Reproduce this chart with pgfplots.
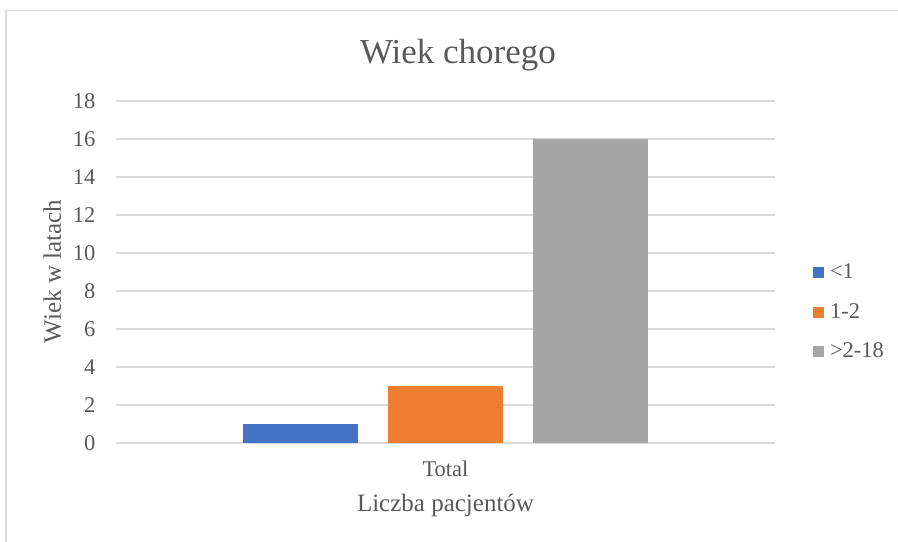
\documentclass[border=0pt]{standalone}
\usepackage{pgfplots}
\pgfplotsset{compat=1.18}
\usepackage{fontspec}
\setmainfont{Liberation Serif}

\definecolor{serA}{HTML}{4472C4}
\definecolor{serB}{HTML}{ED7D31}
\definecolor{serC}{HTML}{A5A5A5}
\definecolor{txt}{HTML}{595959}
\definecolor{gridc}{HTML}{D9D9D9}

\pgfplotsset{
  sqleg/.style={legend image code/.code={\fill[##1] (0pt,-2.2pt) rectangle (4.4pt,2.2pt);}},
}

\begin{document}
\begin{tikzpicture}
\path[use as bounding box] (0pt,0pt) rectangle (359.2pt,216.8pt);
% chart frame
\draw[gridc, line width=0.5pt] (2.4pt,-2pt) -- (2.4pt,212.6pt) -- (362pt,212.6pt);
\begin{axis}[
  at={(46.4pt,39.6pt)}, anchor=south west,
  width=263.6pt, height=136.8pt, scale only axis,
  ybar=12pt, bar width=46pt,
  xmin=-0.5, xmax=0.5, ymin=0, ymax=18,
  xtick={0}, xticklabels={Total},
  ytick={0,2,...,18},
  ymajorgrids, grid style={gridc, line width=0.7pt},
  axis line style={draw=none},
  major tick length=0pt, tick style={draw=none},
  /pgf/number format/assume math mode=true,
  tick label style={font=\fontsize{9}{10.8}\selectfont, text=txt},
  yticklabel style={anchor=east, inner sep=0pt, xshift=-8pt},
  xticklabel style={anchor=base, inner sep=0pt, yshift=-13.5pt},
  every axis title shift=0pt,
  title={Wiek chorego},
  title style={at={(0.519,1.111)}, anchor=base, inner sep=0pt,
    font=\fontsize{14}{16.8}\selectfont, text=txt},
  xlabel={Liczba pacjentów},
  xlabel style={at={(0.5,-0.2009)}, anchor=base, inner sep=0pt,
    font=\fontsize{10}{12}\selectfont, text=txt},
  ylabel={Wiek w latach},
  ylabel style={at={(-0.0835,0.5015)}, anchor=base, inner sep=0pt,
    font=\fontsize{10}{12}\selectfont, text=txt},
  legend style={draw=none, fill=none, at={(1.0456,0.3816)}, anchor=west,
    font=\fontsize{9}{10.8}\selectfont, text=txt,
    nodes={inner sep=0pt, text height=6.2pt, text depth=1.6pt},
    row sep=8pt,
    /tikz/every odd column/.append style={column sep=2.4pt}},
  legend cell align=left,
]
\addplot[fill=serA, draw=none, sqleg] coordinates {(0,1)};
\addplot[fill=serB, draw=none, sqleg] coordinates {(0,3)};
\addplot[fill=serC, draw=none, sqleg] coordinates {(0,16)};
\legend{{<1},{1-2},{>2-18}}
\end{axis}
\end{tikzpicture}
\end{document}
